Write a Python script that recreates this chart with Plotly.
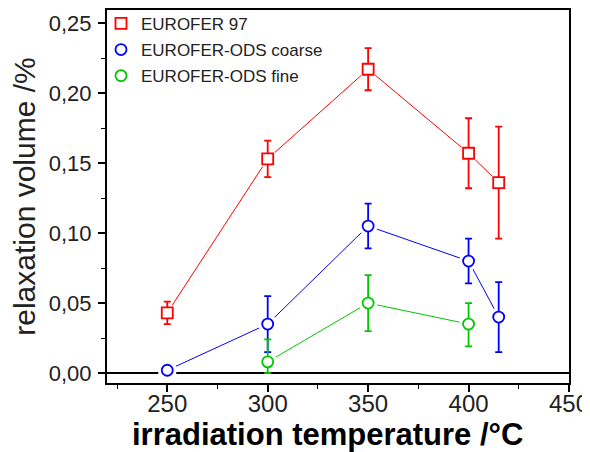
import plotly.graph_objects as go

# Data
temp_97 = [250, 300, 350, 400, 415]
vol_97 = [0.043, 0.153, 0.217, 0.157, 0.136]
err_97 = [0.008, 0.013, 0.015, 0.025, 0.040]

temp_coarse = [250, 300, 350, 400, 415]
vol_coarse = [0.002, 0.035, 0.105, 0.080, 0.040]
err_coarse = [0.0, 0.020, 0.016, 0.016, 0.025]

temp_fine = [300, 350, 400]
vol_fine = [0.008, 0.050, 0.035]
err_fine_plus = [0.016, 0.020, 0.015]
err_fine_minus = [0.008, 0.020, 0.016]

names = ["EUROFER 97", "EUROFER-ODS coarse", "EUROFER-ODS fine"]
colors = ["#FF0000", "#0000FF", "#00C800"]
symbols = ["square", "circle", "circle"]

series = [
    (temp_97, vol_97, err_97, err_97),
    (temp_coarse, vol_coarse, err_coarse, err_coarse),
    (temp_fine, vol_fine, err_fine_plus, err_fine_minus),
]

fig = go.Figure()

# connecting lines
for (x, y, ep, em), c in zip(series, colors):
    fig.add_trace(go.Scatter(x=x, y=y, mode="lines", line=dict(color=c, width=1),
                             showlegend=False, hoverinfo="skip"))
# white masks to create gaps around markers
for (x, y, ep, em), c in zip(series, colors):
    fig.add_trace(go.Scatter(x=x, y=y, mode="markers",
                             marker=dict(color="white", size=19, symbol="circle"),
                             showlegend=False, hoverinfo="skip"))
# markers with error bars
for i, ((x, y, ep, em), c, s, n) in enumerate(zip(series, colors, symbols, names)):
    fig.add_trace(go.Scatter(
        x=x, y=y, mode="markers", name=n, legendgroup=f"g{i}",
        marker=dict(symbol=s, size=11, color="white", line=dict(color=c, width=1.8)),
        error_y=dict(type="data", array=ep, arrayminus=em, symmetric=False,
                     color=c, thickness=1.8, width=3.5),
    ))

font_family = "Arial, Liberation Sans, sans-serif"

fig.add_annotation(
    text="<b>irradiation temperature /°C</b>", xref="paper", yref="paper",
    x=0.477, y=-0.138, xanchor="center", yanchor="middle", showarrow=False,
    font=dict(size=31, color="black", family=font_family),
)

# page body has an 8px margin: margins are offset so the plot area lands
# at x 107..569, y 10..383 in the window
fig.update_layout(
    width=590, height=452,
    margin=dict(l=99, r=29, t=2, b=77, autoexpand=False),
    paper_bgcolor="white", plot_bgcolor="white",
    separators=", ",
    font=dict(family=font_family, color="#222222"),
    showlegend=True,
    legend=dict(x=-0.013, y=1.011, xanchor="left", yanchor="top",
                bgcolor="rgba(0,0,0,0)", font=dict(size=17, color="#222222"),
                tracegroupgap=1, itemclick=False),
    xaxis=dict(
        range=[220, 450], tickvals=[250, 300, 350, 400, 450],
        ticks="outside", ticklen=7, tickwidth=1.5, tickcolor="black",
        minor=dict(dtick=25, tick0=225, ticks="outside", ticklen=4, tickcolor="black", tickwidth=1),
        showline=True, linecolor="black", linewidth=2, mirror=True,
        showgrid=False, zeroline=False,
        tickfont=dict(size=24, color="#222222"),
        ticklabelstandoff=-9,
    ),
    yaxis=dict(
        range=[-0.0071, 0.2593], tickvals=[0, 0.05, 0.10, 0.15, 0.20, 0.25], tickformat=".2f",
        ticks="outside", ticklen=7, tickwidth=1.5, tickcolor="black",
        minor=dict(dtick=0.025, tick0=0.025, ticks="outside", ticklen=4, tickcolor="black", tickwidth=1),
        showline=True, linecolor="black", linewidth=2, mirror=True,
        showgrid=False, zeroline=True, zerolinecolor="black", zerolinewidth=1.5,
        tickfont=dict(size=22, color="#222222"),
        ticklabelstandoff=2,
        title=dict(text="relaxation volume /%", font=dict(size=30, color="#222222"), standoff=5),
    ),
)

fig.write_html("out.html")
